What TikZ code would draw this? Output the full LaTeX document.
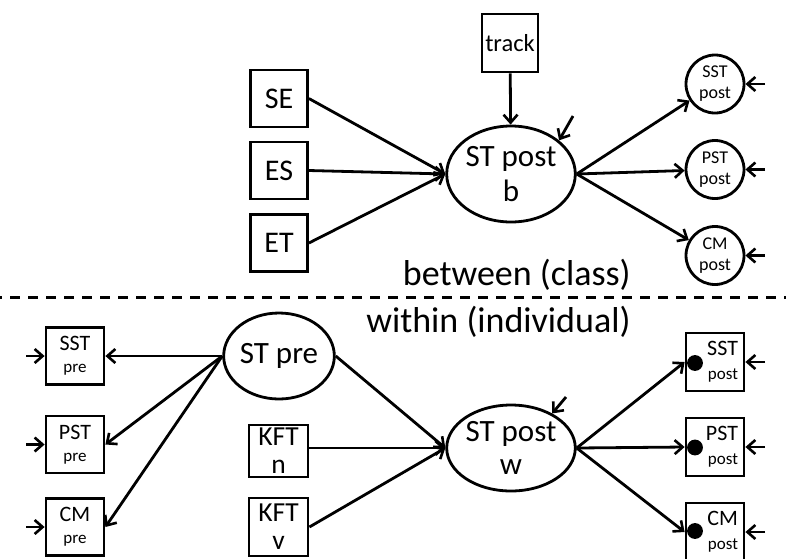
\documentclass[tikz,border=0pt]{standalone}
\usepackage{fontspec}
\setmainfont{Carlito}
\usetikzlibrary{arrows.meta,shapes.geometric}
\newcommand{\fsz}[2]{\fontsize{#1}{#2}\selectfont}
\begin{document}
\begin{tikzpicture}[x=1pt,y=-1pt,line width=2.8pt,
  arr/.style={-{Straight Barb[length=8pt,width=14pt,line width=2.6pt]}},
  box/.style={draw,rectangle,inner sep=0pt,align=center,minimum width=57pt,minimum height=57pt},
  lat/.style={draw,ellipse,inner sep=0pt,align=center},
  smallc/.style={draw,circle,inner sep=0pt,minimum size=58pt,align=center,font=\fsz{18}{21}},
  prebox/.style={box,minimum width=58pt,font=\fsz{17}{22}},
  postbox/.style={draw,rectangle,inner xsep=6pt,inner ysep=0pt,text width=46pt,align=right,minimum height=58pt,font=\fsz{17}{24}},
  dot/.style={draw,circle,fill=black,inner sep=0pt,minimum size=13pt}]
\useasboundingbox (0,0) rectangle (786,558);
% ---- between part
\node[box,minimum width=56pt,minimum height=58pt,font=\fsz{24.5}{28}] (track) at (510,43) {track};
\node[box,font=\fsz{30}{32}] (SE) at (279,98.5) {SE};
\node[box,font=\fsz{30}{32}] (ES) at (279,170.5) {ES};
\node[box,font=\fsz{30}{32}] (ET) at (279,243) {ET};
\node[lat,minimum width=108pt,minimum height=96pt,font=\fsz{31}{35}] (STb) at (511,174) {ST post\\b};
\node[smallc] (SSTc) at (715,84) {SST\\post};
\node[smallc] (PSTc) at (715,169.5) {PST\\post};
\node[smallc] (CMc) at (715,255.5) {CM\\post};
\coordinate (rb) at (573,116);
\coordinate (r1) at (765,84);
\coordinate (r2) at (765,169.5);
\coordinate (r3) at (765,255.5);
\draw[arr] (track) -- (STb);
\draw[arr] (SE.east) -- (STb.west);
\draw[arr] (ES.east) -- (STb.west);
\draw[arr] (ET.east) -- (STb.west);
\draw[arr] (rb) -- (STb.35);
\draw[arr] (STb.east) -- (SSTc);
\draw[arr] (STb.east) -- (PSTc);
\draw[arr] (STb.east) -- (CMc);
\draw[arr] (r1) -- (SSTc.east);
\draw[arr] (r2) -- (PSTc.east);
\draw[arr] (r3) -- (CMc.east);
\node[anchor=base east,font=\fsz{36}{40},inner sep=0pt] (betw) at (632,285) {between (class)};
% ---- dashed separator
\coordinate (dl) at (0,297);
\coordinate (dr) at (786,297);
\draw[line width=3pt,dash pattern=on 10pt off 8pt,dash phase=-10pt] (dl) -- (dr);
\node[anchor=base east,font=\fsz{36}{40},inner sep=0pt] (with) at (632,332) {within (individual)};
% ---- within part
\node[lat,minimum width=108pt,minimum height=86pt,font=\fsz{31}{35}] (STpre) at (279,356) {ST pre};
\node[prebox] (SSTpre) at (75,356) {{\fsz{22}{22}SST}\\pre};
\node[prebox] (PSTpre) at (75,444.5) {{\fsz{22}{22}PST}\\pre};
\node[prebox] (CMpre) at (75,527) {{\fsz{22}{22}CM}\\pre};
\coordinate (q1) at (26,356);
\coordinate (q2) at (26,444.5);
\coordinate (q3) at (26,527);
\draw[arr] (q1) -- (SSTpre.west);
\draw[arr] (q2) -- (PSTpre.west);
\draw[arr] (q3) -- (CMpre.west);
\draw[arr] (STpre.west) -- (SSTpre.east);
\draw[arr] (STpre.west) -- (PSTpre.east);
\draw[arr] (STpre.west) -- (CMpre.east);
\node[box,minimum width=59pt,minimum height=52pt,font=\fsz{27.5}{28}] (KFTn) at (278.5,451) {KFT\\n};
\node[box,minimum width=59pt,minimum height=58pt,font=\fsz{27.5}{28}] (KFTv) at (278.5,527) {KFT\\v};
\node[lat,minimum width=110pt,minimum height=86pt,font=\fsz{31}{33}] (STw) at (511,448) {ST post\\w};
\draw[arr] (STpre.east) -- (STw.west);
\draw[arr] (KFTn.east |- STw.west) -- (STw.west);
\draw[arr] (KFTv.east) -- (STw.west);
\coordinate (rw) at (566,397);
\draw[arr] (rw) -- (STw.40);
\node[postbox] (SSTp) at (715,362) {{\fsz{22}{24}SST}\\post};
\node[postbox] (PSTp) at (715,447) {{\fsz{22}{24}PST}\\post};
\node[postbox] (CMp) at (715,532) {{\fsz{22}{24}CM}\\post};
\node[dot] (d1) at (695,363) {};
\node[dot] (d2) at (695,447.5) {};
\node[dot] (d3) at (695,531) {};
\draw[arr] (STw.east) -- (SSTp.west);
\draw[arr] (STw.east) -- (PSTp.west);
\draw[arr] (STw.east) -- (CMp.west);
\coordinate (s1) at (765,362);
\coordinate (s2) at (765,447);
\coordinate (s3) at (765,532);
\draw[arr] (s1) -- (SSTp.east);
\draw[arr] (s2) -- (PSTp.east);
\draw[arr] (s3) -- (CMp.east);
\end{tikzpicture}
\end{document}
